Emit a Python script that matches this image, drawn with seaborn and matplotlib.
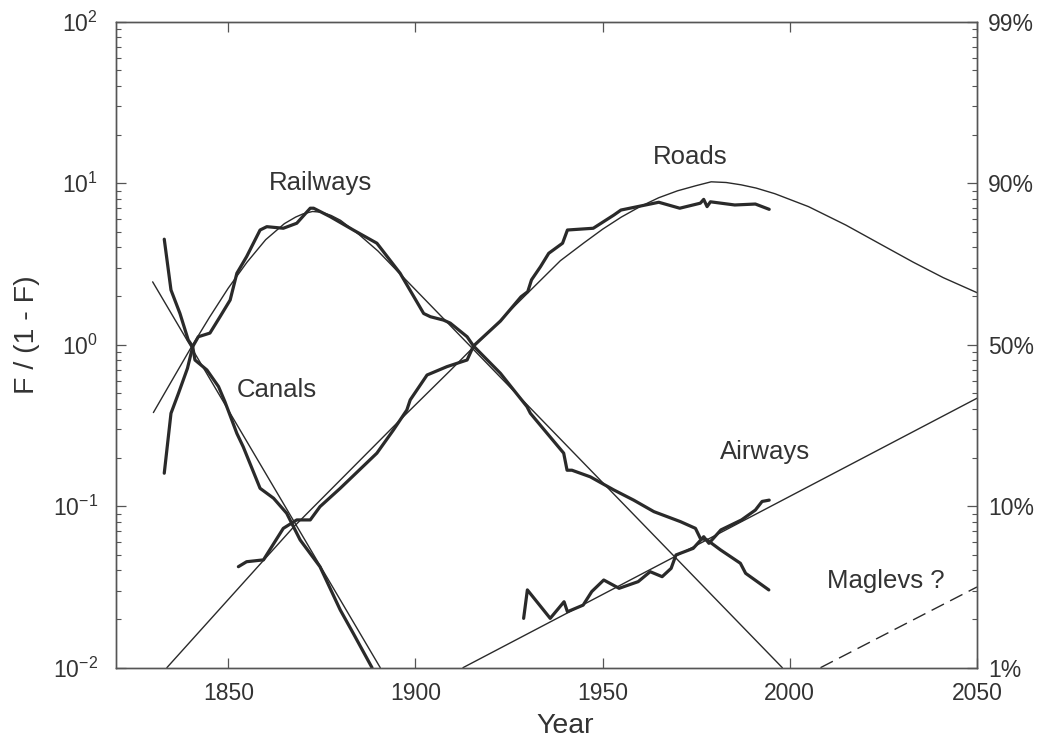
import numpy as np
import pandas as pd
import matplotlib
matplotlib.use("Agg")
import matplotlib.pyplot as plt
import seaborn as sns
from matplotlib.ticker import FixedLocator, FixedFormatter, LogLocator, NullFormatter, NullLocator

# ---------------- data ----------------
canals_fit_year = [1829.8, 1890.6]
canals_fit_val = [2.45, 0.0100]

canals_year = [1832.9, 1834.7, 1837.1, 1839.3, 1840.5, 1841.1, 1844.3, 1847.4, 1849.1,
               1852.3, 1854.0, 1858.5, 1862.1, 1865.6, 1869.2, 1874.5, 1879.9, 1883.4, 1888.4]
canals_val = [4.50, 2.18, 1.56, 1.07, 0.973, 0.804, 0.697, 0.550, 0.444,
              0.282, 0.233, 0.129, 0.112, 0.0904, 0.0618, 0.0422, 0.0228, 0.0163, 0.0100]

rail_fit_year = [1830, 1835, 1840, 1845, 1850, 1855, 1860, 1865, 1868, 1870, 1872.5, 1875,
                 1877.5, 1880, 1885, 1890, 1895, 1900, 1998]
rail_fit_val = [0.380, 0.603, 0.955, 1.48, 2.24, 3.24, 4.47, 5.62, 6.17, 6.46, 6.68, 6.61,
                6.31, 5.89, 4.79, 3.80, 2.88, 2.19, 0.0100]

rail_year = [1832.9, 1834.7, 1836.7, 1839.1, 1840.5, 1842.0, 1845.1, 1847.8, 1850.5, 1852.3,
             1854.9, 1858.5, 1860.3, 1864.7, 1868.3, 1871.9, 1872.8, 1877.2, 1883.4, 1889.7,
             1895.9, 1902.2, 1904.0, 1907.5, 1909.3, 1913.8, 1915.5, 1922.7, 1929.8, 1930.7,
             1935.2, 1939.6, 1940.5, 1941.8, 1946.7, 1953.0, 1958.3, 1963.7, 1970.8, 1974.8,
             1976.1, 1977.9, 1981.5, 1986.8, 1988.2, 1994.4]
rail_val = [0.160, 0.376, 0.500, 0.714, 0.973, 1.12, 1.18, 1.49, 1.89, 2.77,
            3.51, 5.13, 5.38, 5.26, 5.65, 7.00, 7.00, 6.21, 5.13, 4.25,
            2.77, 1.56, 1.49, 1.42, 1.36, 1.12, 0.982, 0.665, 0.413, 0.376,
            0.282, 0.213, 0.167, 0.167, 0.152, 0.126, 0.109, 0.0925, 0.0802, 0.0729,
            0.0632, 0.0618, 0.0536, 0.0443, 0.0384, 0.0303]

roads_fit_year = [1833.6, 1867.4, 1895.9, 1909.3, 1920, 1930, 1938.7, 1945, 1950, 1955,
                  1960, 1965, 1970, 1975, 1979, 1983, 1987, 1991, 1996, 2005, 2015,
                  2024, 2033, 2041, 2050]
roads_fit_val = [0.0100, 0.0741, 0.342, 0.692, 1.23, 2.09, 3.31, 4.27, 5.19, 6.17,
                 7.16, 8.13, 8.97, 9.66, 10.2, 10.1, 9.77, 9.33, 8.61, 7.16, 5.50,
                 4.22, 3.24, 2.60, 2.10]

roads_year = [1852.7, 1854.9, 1859.4, 1864.7, 1868.3, 1871.9, 1874.5, 1879.9, 1889.7, 1894.1,
              1897.7, 1898.6, 1903.1, 1908.4, 1913.8, 1915.5, 1922.7, 1928.2, 1930.0, 1931.0,
              1933.4, 1935.6, 1939.3, 1940.6, 1947.5, 1953.0, 1954.9, 1965.0, 1970.6, 1976.1,
              1977.0, 1977.9, 1978.8, 1985.3, 1990.8, 1994.5]
roads_val = [0.0422, 0.0453, 0.0465, 0.0729, 0.0822, 0.0822, 0.0993, 0.129, 0.213, 0.296,
             0.394, 0.455, 0.649, 0.731, 0.804, 0.982, 1.40, 1.98, 2.13, 2.52,
             3.04, 3.68, 4.25, 5.13, 5.26, 6.35, 6.82, 7.62, 7.00, 7.52,
             7.94, 7.16, 7.67, 7.33, 7.43, 6.89]

air_fit_year = [1912.7, 2050]
air_fit_val = [0.0100, 0.466]

air_year = [1928.9, 1929.9, 1936.0, 1939.7, 1940.6, 1944.8, 1947.1, 1950.3, 1954.4, 1959.5,
            1962.7, 1965.9, 1968.3, 1969.6, 1974.2, 1977.0, 1978.4, 1981.6, 1987.1, 1990.8,
            1992.6, 1994.5]
air_val = [0.0202, 0.0303, 0.0202, 0.0256, 0.0222, 0.0244, 0.0296, 0.0349, 0.0310, 0.0341,
           0.0393, 0.0366, 0.0412, 0.0499, 0.0548, 0.0647, 0.0589, 0.0713, 0.0822, 0.0946,
           0.107, 0.109]

maglev_year = [2008.2, 2050]
maglev_val = [0.0100, 0.0316]

x_ticks = [1850, 1900, 1950, 2000, 2050]
y_ticks = [0.01, 0.1, 1, 10, 100]
y_tick_labels = ["$10^{-2}$", "$10^{-1}$", "$10^{0}$", "$10^{1}$", "$10^{2}$"]
right_tick_labels = ["1%", "10%", "50%", "90%", "99%"]

labels = ["Railways", "Canals", "Roads", "Airways", "Maglevs ?"]
label_x = [1874.7, 1863.0, 1973.3, 1993.3, 2025.6]
label_y = [10.0, 0.524, 14.6, 0.215, 0.0344]

# ---------------- style ----------------
sns.set_theme(style="ticks")
plt.rcParams["font.family"] = ["Liberation Sans", "DejaVu Sans"]
plt.rcParams["mathtext.fontset"] = "custom"
plt.rcParams["mathtext.rm"] = "Liberation Sans"
plt.rcParams["mathtext.it"] = "Liberation Sans:italic"
plt.rcParams["mathtext.bf"] = "Liberation Sans:bold"

ink = "#2a2a2a"
spine_c = "#555555"

fig = plt.figure(figsize=(10.4, 7.46), dpi=100)
ax = fig.add_axes([0.1115, 0.1050, 0.8279, 0.8659])

thin = dict(color=ink, linewidth=1.0)
thick = dict(color=ink, linewidth=2.3)

def draw(xs, ys, style, **kw):
    df = pd.DataFrame({"year": xs, "val": ys})
    sns.lineplot(data=df, x="year", y="val", ax=ax, estimator=None, sort=False,
                 legend=False, **style, **kw)

draw(canals_fit_year, canals_fit_val, thin)
draw(rail_fit_year, rail_fit_val, thin)
draw(roads_fit_year, roads_fit_val, thin)
draw(air_fit_year, air_fit_val, thin)
draw(canals_year, canals_val, thick)
draw(rail_year, rail_val, thick)
draw(roads_year, roads_val, thick)
draw(air_year, air_val, thick)
draw(maglev_year, maglev_val, thin, dashes=False)
ax.lines[-1].set_linestyle((0, (10, 5)))
for ln in ax.lines:
    ln.set_solid_joinstyle("round")

ax.set_yscale("log")
ax.set_xlim(1820, 2050)
ax.set_ylim(0.01, 100)

ax.xaxis.set_major_locator(FixedLocator(x_ticks))
ax.xaxis.set_minor_locator(NullLocator())
ax.yaxis.set_major_locator(FixedLocator(y_ticks))
ax.yaxis.set_major_formatter(FixedFormatter(y_tick_labels))
ax.yaxis.set_minor_locator(LogLocator(base=10, subs=np.arange(2, 10)))
ax.yaxis.set_minor_formatter(NullFormatter())

ax.tick_params(axis="both", which="major", direction="in", length=7.5, width=0.9,
               color=spine_c, labelsize=16.5, labelcolor="#333333")
ax.tick_params(axis="x", which="major", top=True, bottom=True, pad=10)
ax.tick_params(axis="y", which="major", pad=13, right=False)
ax.tick_params(axis="y", which="minor", direction="in", length=3.5, width=0.8,
               color=spine_c, right=False)

ax2 = ax.twinx()
ax2.set_yscale("log")
ax2.set_ylim(0.01, 100)
ax2.yaxis.set_major_locator(FixedLocator(y_ticks))
ax2.yaxis.set_major_formatter(FixedFormatter(right_tick_labels))
ax2.yaxis.set_minor_locator(LogLocator(base=10, subs=np.arange(2, 10)))
ax2.yaxis.set_minor_formatter(NullFormatter())
ax2.tick_params(axis="y", which="major", direction="in", length=7.5, width=0.9,
                color=spine_c, labelsize=16.5, labelcolor="#333333", pad=8)
ax2.tick_params(axis="y", which="minor", direction="in", length=3.5, width=0.8,
                color=spine_c)

for a in (ax, ax2):
    for s in a.spines.values():
        s.set_color(spine_c)
        s.set_linewidth(1.0)
        s.set_visible(True)

ax.set_xlabel("Year", fontsize=20.5, color="#333333")
ax.set_ylabel("F / (1 - F)", fontsize=20.5, color="#333333")
ax.xaxis.set_label_coords(0.5215, -0.07)
ax.yaxis.set_label_coords(-0.088, 0.515)

for t, lx, ly in zip(labels, label_x, label_y):
    ax.text(lx, ly, t, fontsize=18.5, color="#333333", ha="center", va="center")

fig.savefig("out.png", dpi=100)
